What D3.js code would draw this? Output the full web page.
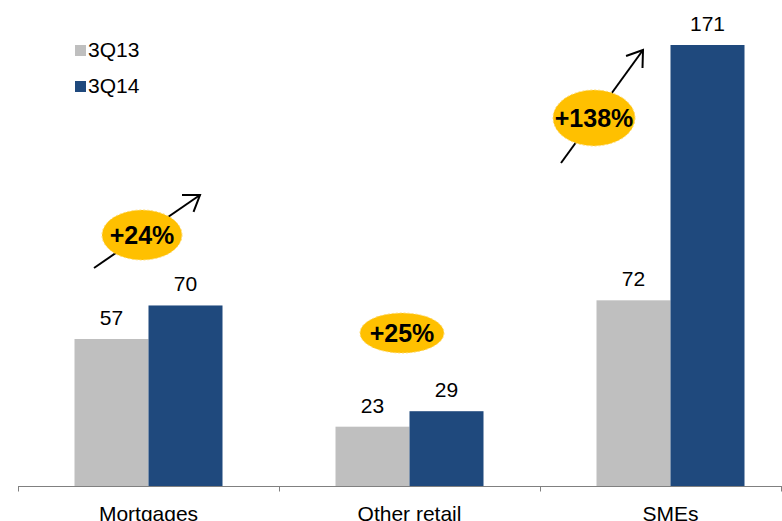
<!DOCTYPE html>
<html><head><meta charset="utf-8">
<script src="https://cdn.jsdelivr.net/npm/d3@7"></script>
<style>body{margin:0;background:#fff}svg{display:block}</style>
</head><body>
<svg id="c" width="782" height="521"></svg>
<script>
const categories = ["Mortgages", "Other retail", "SMEs"];
const seriesNames = ["3Q13", "3Q14"];
const values3Q13 = [57, 23, 72];
const values3Q14 = [70, 29, 171];
const growthLabels = ["+24%", "+25%", "+138%"];
const colors = ["#BFBFBF", "#1F497D"];

const svg = d3.select("#c");
const font = "Liberation Sans, Arial, sans-serif";
const x = d3.scaleBand().domain(categories).range([18, 801]).paddingInner(0).paddingOuter(0);
const y = d3.scaleLinear().domain([0, 171]).range([486, 45]);
const barW = 74;

// arrows & badges (drawn first, bars after not overlapping)
function arrow(x1, y1, x2, y2) {
  svg.append("line").attr("x1", x1).attr("y1", y1).attr("x2", x2).attr("y2", y2).attr("stroke", "#000").attr("stroke-width", 2);
  const a = Math.atan2(y2 - y1, x2 - x1), L = 18, sp = 0.6;
  const p = d3.path();
  p.moveTo(x2 + L*Math.cos(a + Math.PI - sp), y2 + L*Math.sin(a + Math.PI - sp));
  p.lineTo(x2, y2);
  p.lineTo(x2 + L*Math.cos(a + Math.PI + sp), y2 + L*Math.sin(a + Math.PI + sp));
  svg.append("path").attr("d", p.toString()).attr("fill", "none")
    .attr("stroke", "#000").attr("stroke-width", 2).attr("stroke-linejoin", "miter");
}
function badge(cx, cy, rx, ry, t) {
  svg.append("ellipse").attr("cx", cx).attr("cy", cy).attr("rx", rx).attr("ry", ry)
    .attr("fill", "#FFC000").attr("stroke", "#FFD966").attr("stroke-width", 1).attr("stroke-dasharray", "2,2");
  svg.append("text").attr("x", cx).attr("y", cy + 9).attr("text-anchor", "middle")
    .attr("font-family", font).attr("font-weight", "bold").attr("font-size", 25).attr("fill", "#000").text(t);
}
arrow(94, 268, 200, 195);
badge(142, 235, 40, 25, growthLabels[0]);
badge(402, 333, 42, 20, growthLabels[1]);
arrow(561, 163, 643, 50);
badge(594, 118, 41, 28, growthLabels[2]);

const series = [values3Q13, values3Q14];
series.forEach((vals, si) => {
  svg.selectAll(null).data(vals).enter().append("rect")
    .attr("x", (d, i) => x(categories[i]) + x.bandwidth()/2 - barW + si*barW)
    .attr("y", d => y(d))
    .attr("width", barW)
    .attr("height", d => y(0) - y(d))
    .attr("fill", colors[si]);
  svg.selectAll(null).data(vals).enter().append("text")
    .attr("x", (d, i) => x(categories[i]) + x.bandwidth()/2 - barW/2 + si*barW)
    .attr("y", d => y(d) - 14)
    .attr("text-anchor", "middle")
    .attr("font-family", font).attr("font-size", 21).attr("fill", "#000")
    .text(d => d);
});

// axis
const axis = svg.append("g").attr("transform", "translate(0,486.5)");
axis.append("line").attr("x1", 18).attr("x2", 782).attr("y1", 0).attr("y2", 0).attr("stroke", "#808080").attr("stroke-width", 1);
[0,1,2].forEach(i => {
  axis.append("line").attr("x1", x(categories[i]) + 0.5).attr("x2", x(categories[i]) + 0.5).attr("y1", 0).attr("y2", 5).attr("stroke", "#808080");
});
axis.append("line").attr("x1", 781.5).attr("x2", 781.5).attr("y1", 0).attr("y2", 5).attr("stroke", "#808080");
categories.forEach(c => {
  axis.append("text").attr("x", x(c) + x.bandwidth()/2).attr("y", 34)
    .attr("text-anchor", "middle").attr("font-family", font).attr("font-size", 21).attr("fill", "#000").text(c);
});

// legend
seriesNames.forEach((s, i) => {
  const by = 57 + i*36;
  svg.append("rect").attr("x", 75).attr("y", by - 12).attr("width", 11).attr("height", 11).attr("fill", colors[i]);
  svg.append("text").attr("x", 88).attr("y", by).attr("font-family", font).attr("font-size", 21).attr("fill", "#000").text(s);
});
</script>
</body></html>
